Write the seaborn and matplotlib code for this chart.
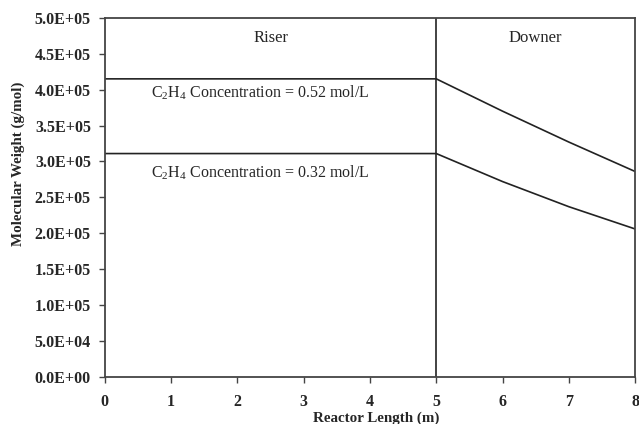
import numpy as np
import pandas as pd
import seaborn as sns
import matplotlib.pyplot as plt

# reactor length (m) and molecular weight (g/mol)
length = [0, 5, 6, 7, 8]
mw_052 = [4.15e5, 4.15e5, 3.70e5, 3.27e5, 2.86e5]
mw_032 = [3.11e5, 3.11e5, 2.72e5, 2.37e5, 2.06e5]
conc_labels = ['0.52', '0.32']

sections = ['Riser', 'Downer']
section_x = [2.5, 6.5]
riser_end = 5

xticks = [0, 1, 2, 3, 4, 5, 6, 7, 8]
yticks = [0, 0.5e5, 1.0e5, 1.5e5, 2.0e5, 2.5e5, 3.0e5, 3.5e5, 4.0e5, 4.5e5, 5.0e5]

df = pd.concat([
    pd.DataFrame({'length': length, 'mw': mw_052, 'conc': conc_labels[0]}),
    pd.DataFrame({'length': length, 'mw': mw_032, 'conc': conc_labels[1]}),
])

sns.set_style('ticks')
plt.rcParams['font.family'] = ['Liberation Serif', 'DejaVu Serif']
plt.rcParams['mathtext.fontset'] = 'custom'
plt.rcParams['mathtext.rm'] = 'Liberation Serif'

fig = plt.figure(figsize=(6.39, 4.24), dpi=100)
ax = fig.add_axes([0.164, 0.111, 0.830, 0.847])

sns.lineplot(data=df, x='length', y='mw', hue='conc', palette=['#222222', '#222222'],
             linewidth=1.2, legend=False, ax=ax)

# riser / downer boundary
ax.axvline(riser_end, color='#222222', linewidth=1.2)

for name, xs in zip(sections, section_x):
    ax.text(xs, 4.72e5, name, ha='center', va='center', fontsize=12)

ax.text(2.35, 3.96e5, r'C$_\mathregular{2}$H$_\mathregular{4}$ Concentration = ' + conc_labels[0] + ' mol/L',
        ha='center', va='center', fontsize=11.5)
ax.text(2.35, 2.84e5, r'C$_\mathregular{2}$H$_\mathregular{4}$ Concentration = ' + conc_labels[1] + ' mol/L',
        ha='center', va='center', fontsize=11.5)

ax.set_xlim(0, 8)
ax.set_ylim(0, 5e5)
ax.set_xticks(xticks)
ax.set_yticks(yticks)
ax.set_yticklabels(['%.1E' % v for v in yticks])
for lab in ax.get_xticklabels() + ax.get_yticklabels():
    lab.set_fontweight('bold')
    lab.set_fontsize(11.5)
ax.tick_params(direction='out', length=4, width=1, color='#444444')
ax.tick_params(axis='x', pad=8)
ax.tick_params(axis='y', pad=6)

ax.set_xlabel('Reactor Length (m)', fontsize=10.8, fontweight='bold')
ax.set_ylabel('Molecular Weight (g/mol)', fontsize=10.8, fontweight='bold')
ax.xaxis.label.set_va('center')
ax.xaxis.set_label_coords(0.512, -0.114)
ax.yaxis.label.set_va('center')
ax.yaxis.set_label_coords(-0.164, 0.593)

for sp in ax.spines.values():
    sp.set_color('#444444')
    sp.set_linewidth(1.3)

fig.savefig('out.png', dpi=100)
